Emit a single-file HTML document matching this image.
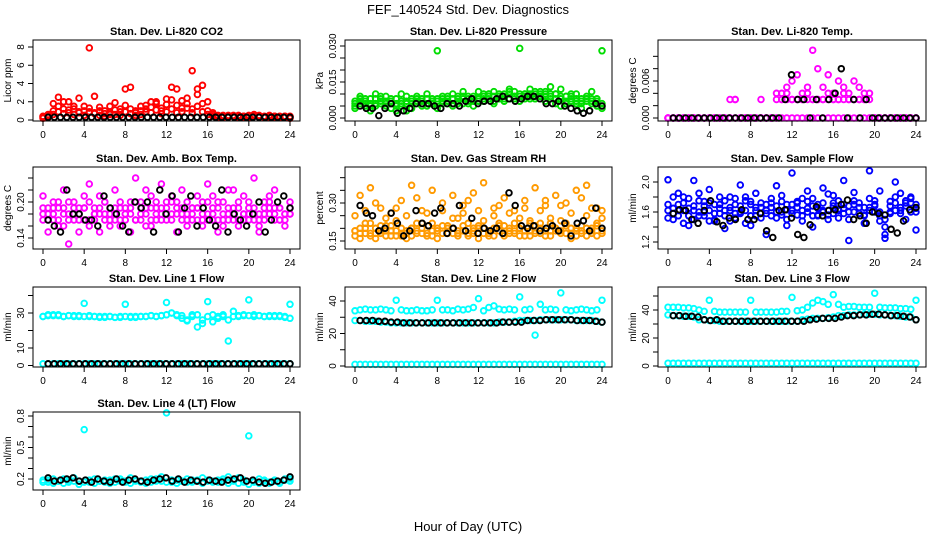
<!DOCTYPE html>
<html><head><meta charset="utf-8"><style>
html,body{margin:0;padding:0;background:#fff;}
svg{display:block;font-family:"Liberation Sans",Arial,sans-serif;}
</style></head><body>
<svg id="fig" width="936" height="540" viewBox="0 0 936 540" xmlns="http://www.w3.org/2000/svg">
<rect width="936" height="540" fill="#fff"/>
<text x="468" y="14" text-anchor="middle" font-size="13">FEF_140524  Std. Dev. Diagnostics</text>
<text x="468" y="531" text-anchor="middle" font-size="13">Hour of Day (UTC)</text>
</svg>
<script>
const xTicks=[0,4,8,12,16,20,24];
// CO2
const co2RedA=[0.3,0.5,1.8,2.5,1.2,2.0,1.5,2.4,1.0,7.9,2.6,1.4,1.0,1.5,1.9,1.2,3.4,3.6,1.0,1.5,1.2,2.0,1.8,1.3,2.3,3.6,3.4,2.1,1.8,5.4,3.4,3.8,2.0,0.8,0.5,0.4,0.5,0.4,0.3,0.4,0.5,0.4,0.3,0.4,0.3,0.4,0.3,0.4,0.3];
const co2RedB=[0.2,0.6,1.0,1.5,2.0,0.8,1.2,0.9,1.5,1.3,0.8,1.0,0.7,0.6,1.1,0.9,1.6,1.2,0.8,1.0,1.6,1.4,2.0,1.0,1.7,2.2,1.6,1.3,2.4,1.2,2.8,1.8,1.0,0.6,0.4,0.5,0.3,0.4,0.5,0.3,0.4,0.6,0.4,0.3,0.5,0.4,0.3,0.4,0.2];
const co2RedC=[0.4,0.3,0.6,0.9,0.7,1.1,0.6,0.8,0.5,0.9,0.7,0.5,0.4,0.8,0.6,0.5,0.9,0.7,0.5,0.6,0.9,0.8,1.1,0.7,0.9,1.2,0.8,0.9,1.3,0.8,1.5,0.9,0.6,0.4,0.3,0.3,0.4,0.5,0.3,0.4,0.3,0.4,0.5,0.3,0.4,0.3,0.4,0.3,0.4];
const co2Black=[0.3,0.3,0.3,0.3,0.3,0.3,0.3,0.3,0.3,0.3,0.3,0.3,0.3,0.3,0.3,0.3,0.3,0.3,0.3,0.3,0.3,0.3,0.3,0.3,0.3,0.3,0.3,0.3,0.3,0.3,0.3,0.3,0.3,0.3,0.3,0.3,0.3,0.3,0.3,0.3];
// Pressure (x1e-3 kPa)
const presA=[7,9,5,8,10,6,9,4,8,10,3,8,9,6,10,8,28,9,7,10,8,11,9,7,11,10,9,11,8,10,12,11,29,9,12,10,9,11,13,10,12,9,8,10,7,9,11,8,28];
const presB=[4,6,8,3,5,9,7,6,3,5,7,4,6,8,5,7,4,6,9,5,7,6,8,5,8,7,10,6,9,7,8,9,7,10,8,11,9,7,8,6,5,7,10,6,4,8,6,5,4];
const presC=[6,7,6,6,8,7,5,7,6,7,6,7,8,7,6,7,8,7,6,8,9,8,7,9,8,9,8,9,10,9,10,9,10,10,9,9,10,9,9,10,8,9,7,8,8,7,8,7,6];
const presD=[5,8,7,5,6,8,6,8,5,6,9,6,7,5,8,6,7,8,8,6,6,9,6,8,7,8,10,7,9,8,11,8,9,8,10,8,11,10,10,8,9,6,9,7,6,8,7,6,5];
const presBlack=[5,4,4,1,4,6,2,3,4,6,6,6,5,4,6,6,5,7,8,6,7,7,8,9,8,7,8,9,9,8,6,6,7,5,4,3,2,3,6,5];
// Temp (x1e-3 C)
const tempA=[0,0,0,0,0,0,0,0,0,0,0,0,3,3,0,0,0,0,3,0,0,3,3,3,3,3,3,3,3,3,3,3,3,3,3,3,3,3,3,3,0,0,0,0,0,0,0,0,0];
const tempB=[0,0,0,0,0,0,0,0,0,0,0,0,0,0,0,0,0,0,0,0,0,0,0,0,0,0,0,0,0,0,0,0,0,0,0,0,0,0,0,0,0,0,0,0,0,0,0,0,0];
const tempC=[0,0,0,0,0,0,0,0,0,0,0,0,0,0,0,0,0,0,0,0,0,4,4,5,6,7,4,5,11,8,5,7,4,6,5,4,6,5,4,4,0,0,0,0,0,0,0,0,0];
const tempD=[0,0,0,0,0,0,0,0,0,0,0,0,0,3,0,0,0,0,0,0,0,0,3,4,3,3,3,4,3,3,3,4,3,3,4,3,3,3,3,0,0,0,0,0,0,0,0,0,0];
const tempBlack=[0,0,0,0,0,0,0,0,0,0,0,0,0,0,0,0,0,0,3,7,3,3,0,3,0,3,4,8,0,3,0,3,0,0,0,0,0,0,0,0];
// Amb box temp
const ambA=[.21,.17,.19,.16,.22,.18,.20,.15,.19,.23,.17,.21,.18,.16,.22,.19,.17,.20,.24,.18,.16,.21,.19,.23,.17,.20,.18,.22,.16,.19,.21,.17,.23,.18,.20,.16,.22,.19,.17,.21,.18,.24,.16,.20,.19,.22,.17,.18,.20];
const ambB=[.17,.15,.18,.20,.16,.13,.19,.17,.21,.16,.18,.15,.20,.17,.19,.16,.18,.15,.17,.20,.22,.16,.18,.17,.19,.21,.15,.18,.20,.17,.19,.16,.18,.21,.15,.17,.19,.22,.16,.18,.20,.17,.15,.19,.21,.17,.19,.16,.18];
const ambC=[.18,.19,.17,.19,.18,.20,.17,.18,.19,.17,.19,.18,.17,.19,.18,.17,.19,.18,.20,.17,.18,.19,.17,.18,.20,.18,.19,.17,.18,.19,.17,.18,.20,.19,.17,.18,.18,.17,.19,.18,.17,.19,.18,.17,.18,.19,.17,.18,.18];
const ambD=[.19,.18,.20,.17,.19,.17,.18,.19,.17,.20,.18,.19,.20,.18,.17,.20,.18,.19,.17,.19,.19,.17,.20,.19,.18,.17,.20,.19,.17,.18,.19,.20,.17,.17,.19,.20,.17,.18,.20,.17,.19,.18,.17,.18,.20,.18,.19,.17,.19];
const ambBlack=[.17,.16,.15,.22,.18,.18,.17,.17,.16,.21,.19,.18,.16,.15,.20,.19,.20,.15,.22,.18,.21,.15,.19,.21,.16,.19,.17,.16,.22,.15,.18,.17,.16,.18,.20,.15,.17,.20,.21,.19];
// Gas stream RH
const rhA=[.19,.33,.18,.36,.20,.28,.17,.26,.19,.31,.18,.37,.22,.27,.17,.35,.20,.30,.18,.33,.24,.29,.17,.34,.21,.38,.19,.28,.22,.32,.18,.27,.20,.31,.17,.36,.22,.29,.19,.33,.23,.30,.18,.35,.21,.37,.20,.28,.24];
const rhB=[.17,.20,.22,.18,.16,.21,.19,.17,.23,.18,.16,.20,.18,.22,.17,.19,.16,.21,.18,.20,.17,.19,.22,.18,.16,.20,.19,.17,.21,.18,.20,.22,.17,.19,.23,.18,.20,.17,.22,.19,.18,.21,.16,.20,.18,.17,.19,.21,.18];
const rhC=[.25,.16,.27,.22,.30,.18,.24,.21,.28,.17,.25,.20,.32,.18,.26,.22,.19,.27,.21,.24,.18,.26,.31,.20,.27,.23,.18,.25,.29,.21,.26,.19,.24,.28,.22,.19,.27,.31,.24,.20,.29,.22,.26,.19,.32,.25,.28,.22,.27];
const rhD=[.19,.18,.20,.17,.18,.19,.21,.19,.17,.20,.19,.17,.19,.20,.18,.17,.19,.18,.20,.18,.19,.21,.18,.19,.20,.18,.17,.20,.19,.17,.19,.18,.20,.17,.19,.21,.18,.19,.17,.20,.19,.18,.20,.17,.19,.20,.18,.17,.19];
const rhBlack=[.29,.26,.25,.19,.20,.26,.22,.17,.19,.27,.22,.21,.26,.28,.18,.20,.29,.19,.24,.18,.20,.19,.20,.18,.34,.29,.21,.20,.21,.19,.20,.21,.19,.22,.17,.22,.23,.19,.28,.20];
// Sample flow
const sfA=[2.03,1.50,1.85,1.62,1.42,2.02,1.75,1.55,1.90,1.48,1.65,1.38,1.80,1.58,1.96,1.45,1.70,1.85,1.52,1.30,1.78,1.95,1.60,1.42,2.12,1.72,1.55,1.88,1.40,1.65,1.92,1.50,1.82,1.62,2.02,1.22,1.75,1.58,1.45,2.15,1.70,1.88,1.40,1.60,2.00,1.85,1.50,1.78,1.36];
const sfB=[1.62,1.80,1.55,1.72,1.65,1.50,1.85,1.60,1.48,1.70,1.58,1.75,1.62,1.52,1.68,1.80,1.55,1.62,1.72,1.58,1.66,1.52,1.74,1.63,1.70,1.56,1.78,1.60,1.68,1.55,1.72,1.62,1.58,1.75,1.65,1.50,1.70,1.58,1.66,1.78,1.60,1.55,1.25,1.68,1.72,1.62,1.75,1.80,1.65];
const sfC=[1.52,1.65,1.70,1.45,1.78,1.62,1.55,1.68,1.72,1.50,1.80,1.62,1.48,1.70,1.60,1.75,1.42,1.66,1.58,1.70,1.55,1.68,1.82,1.50,1.62,1.74,1.48,1.65,1.78,1.56,1.62,1.84,1.68,1.52,1.70,1.60,1.86,1.66,1.55,1.62,1.75,1.48,1.30,1.58,1.80,1.66,1.72,1.60,1.70];
const sfD=[1.70,1.58,1.62,1.80,1.55,1.68,1.60,1.74,1.62,1.58,1.70,1.55,1.66,1.78,1.58,1.62,1.74,1.55,1.66,1.62,1.72,1.60,1.56,1.70,1.58,1.66,1.62,1.74,1.55,1.70,1.60,1.56,1.72,1.64,1.58,1.68,1.60,1.72,1.56,1.66,1.68,1.60,1.50,1.74,1.62,1.58,1.68,1.72,1.60];
const sfBlack=[1.58,1.63,1.62,1.50,1.45,1.62,1.75,1.47,1.42,1.52,1.50,1.63,1.50,1.50,1.58,1.35,1.26,1.62,1.63,1.52,1.30,1.26,1.43,1.67,1.55,1.62,1.63,1.70,1.76,1.50,1.55,1.45,1.60,1.58,1.56,1.37,1.32,1.48,1.63,1.66];
// Line 1
const l1UpA=[28,28.5,29,28.5,28,28.5,28.5,28,35.5,28,28,27.5,28,28,27.5,27.5,35,27.5,28,28,28,28.5,28,28.5,36,30,29,28.5,26,29,22,24,36.5,25,27,28,14,31,28,28.5,37.5,29,28.5,28,28.5,28,28.5,28,35];
const l1UpB=[28,29,28.5,29,28,28.5,28,28.5,28,28.5,28,28,27.5,28,27.5,28,28,28,27.5,28,28,28.5,28,28.5,29,30,28.5,27,25.5,28,29,26,28,29,28,29,26,28,28.5,29,28.5,28,28.5,28,28,28.5,28,27.5,27];
const l1Low=[1,1,1,1,1,1,1,1,1,1,1,1,1,1,1,1,1,1,1,1,1,1,1,1,1,1,1,1,1,1,1,1,1,1,1,1,1,1,1,1,1,1,1,1,1,1,1,1,1];
const l1Black=[1,1,1,1,1,1,1,1,1,1,1,1,1,1,1,1,1,1,1,1,1,1,1,1,1,1,1,1,1,1,1,1,1,1,1,1,1,1,1,1];
// Line 2
const l2Up=[34,34.5,35,34.5,34.5,35,34.5,34,40.5,34.5,34,34,34.5,34,34,34.5,40.5,34.5,34.5,34,35,34.5,35,36,41.5,34,36,37,35,34.5,35,34.5,42.5,34.5,35,19,38,34.5,35,34.5,45,34.5,34,34.5,35,34.5,34,34.5,40.5];
const l2Mid=[28,28,27.5,27.5,27.5,27,27,26.5,26.5,26.5,26.5,26.5,26.5,26.5,26.5,26.5,26.5,26.5,26.5,26.5,26.5,26.5,26.5,26.5,26.5,26.5,26.5,26.5,27,27,27,27.5,28,28,28,28,28.5,28.5,28.5,28.5,28.5,28.5,28.5,28,28,28,28,27.5,27];
const l2Black=[28,28,28,27.5,27.5,27,27,26.5,26.5,26.5,26.5,26.5,26.5,26.5,26.5,26.5,26.5,26.5,26.5,26.5,26.5,26.5,26.5,27,27,27,27,28,28,28,28.5,28.5,28.5,28.5,28.5,28,28,28,27.5,27];
const l2Low=[1,1,1,1,1,1,1,1,1,1,1,1,1,1,1,1,1,1,1,1,1,1,1,1,1,1,1,1,1,1,1,1,1,1,1,1,1,1,1,1,1,1,1,1,1,1,1,1,1];
// Line 3
const l3Up=[42,42,42,41.5,41.5,41,40,39,47,39,38.5,38.5,38.5,38.5,38.5,38.5,47,38.5,38.5,38.5,38.5,38.5,39,39,49,39.5,40,42,45,47,46,44,51,44,42,42.5,42.5,42,42,42,52,42,41.5,41.5,41.5,41,41,40.5,47];
const l3Mid=[36.5,36,36,35.5,35.5,35,33,33,32.5,32.5,32,32,32,32,32,32,32,32,32,32,32,32,32,32,32,32,33,33.5,34,34,34,34.5,35,36,36,36.5,36.5,36.5,37,37,37,36.5,36.5,36,36,35.5,35,35,33];
const l3Black=[36,36,35.5,35.5,35,33,32.5,33,32,32,32,32,32,32,32,32,32,32,32,32,32,32,33,33.5,34,34,34,35,36,36,36.5,36.5,37,37,36.5,36,36,35.5,35,33];
const l3Low=[2,2,2,2,2,2,2,2,2,2,2,2,2,2,2,2,2,2,2,2,2,2,2,2,2,2,2,2,2,2,2,2,2,2,2,2,2,2,2,2,2,2,2,2,2,2,2,2,2];
// Line 4
const l4A=[.19,.17,.20,.18,.16,.19,.21,.18,.67,.17,.20,.18,.19,.16,.20,.18,.17,.21,.19,.18,.16,.20,.18,.22,.83,.17,.19,.18,.20,.17,.19,.21,.18,.17,.19,.20,.22,.18,.16,.19,.61,.17,.20,.18,.16,.19,.17,.20,.18];
const l4B=[.17,.19,.16,.18,.20,.17,.18,.15,.17,.19,.16,.18,.17,.19,.17,.20,.18,.16,.18,.17,.19,.17,.20,.18,.17,.19,.16,.18,.17,.19,.18,.16,.19,.18,.17,.18,.16,.19,.21,.17,.15,.18,.16,.19,.17,.18,.16,.19,.20];
const l4Black=[.21,.18,.19,.20,.21,.18,.19,.17,.20,.18,.17,.20,.17,.19,.20,.18,.17,.19,.20,.21,.18,.20,.17,.19,.18,.17,.19,.18,.17,.19,.20,.21,.18,.19,.17,.16,.17,.18,.19,.22];

const NS="http://www.w3.org/2000/svg";
const svg=document.getElementById('fig');
function mk(tag,attrs,parent){const e=document.createElementNS(NS,tag);for(const k in attrs)e.setAttribute(k,attrs[k]);(parent||svg).appendChild(e);return e;}
const colX0=[43,355,668],colX1=[290,602,916];
const rowBox=[[40,121],[167,249],[287,367],[412,490]];

function panel(p){
  const g=mk('g',{});
  
  
  const X0=colX0[p.col],X1=colX1[p.col];
  const [bt,bb]=rowBox[p.row];
  const xs=h=>X0+(X1-X0)*h/24;
  const ys=v=>p.p0+(p.p1-p.p0)*(v-p.v0)/(p.v1-p.v0);
  const bl=X0-10,br=X1+10;
  const t=mk('text',{x:(bl+br)/2,y:bt-5,'text-anchor':'middle','font-size':'11','font-weight':'bold'},g);
  t.textContent=p.title;
  
  
  const cl=mk('g',{},g);
  
  
  p.series.forEach(s=>{
    const n=s.vals.length,a=s.x0,b=s.x1;
    s.vals.forEach((v,i)=>{
      const h=n>1?a+(b-a)*i/(n-1):a;
      const c=mk('circle',{cx:xs(h).toFixed(1),cy:ys(v*(s.k||1)).toFixed(1),r:2.8,fill:'none',stroke:s.color,'stroke-width':1.9},cl);
      
      
    });
  });
  const box=mk('rect',{x:bl,y:bt,width:br-bl,height:bb-bt,fill:'none',stroke:'#000','stroke-width':1},g);
  
  
  xTicks.forEach(h=>{
    mk('line',{x1:xs(h),x2:xs(h),y1:bb,y2:bb+5,stroke:'#000'},g);
    const tl=mk('text',{x:xs(h),y:bb+17,'text-anchor':'middle','font-size':'10'},g);
    tl.textContent=h;
    
    
  });
  mk('line',{x1:xs(0),x2:xs(24),y1:bb,y2:bb,stroke:'#000'},g);
  p.yTicks.forEach(v=>{
    const y=ys(v);
    mk('line',{x1:bl-5,x2:bl,y1:y,y2:y,stroke:'#000'},g);
  });
  p.yLabels.forEach(v=>{
    const y=ys(v);
    const tl=mk('text',{x:0,y:0,'text-anchor':'middle','font-size':'10',transform:`translate(${bl-9},${y}) rotate(-90)`},g);
    tl.textContent=v.toFixed(p.dec);
    
    
  });
  const yt=mk('text',{x:0,y:0,'text-anchor':'middle','font-size':'10',transform:`translate(${bl-22},${(bt+bb)/2}) rotate(-90)`},g);
  yt.textContent=p.ylab;
  
  
}
const M=(vals,color,k)=>({vals,color,x0:0,x1:24,k});
const B=(vals,k)=>({vals,color:'#000',x0:0.5,x1:24,k});
const red='#ff0000',grn='#00dd00',mag='#ff00ff',blu='#0000ff',cya='#00ffff',org='#ff9a00';
panel({name:'panel-co2',col:0,row:0,title:'Stan. Dev. Li-820 CO2',ylab:'Licor ppm',v0:0,p0:120,v1:8,p1:47,yTicks:[0,2,4,6,8],yLabels:[0,2,4,6,8],dec:0,
  series:[M(co2RedC,red),M(co2RedB,red),M(co2RedA,red),B(co2Black)]});
panel({name:'panel-pressure',col:1,row:0,title:'Stan. Dev. Li-820 Pressure',ylab:'kPa',v0:0,p0:118,v1:0.03,p1:46,yTicks:[0,.005,.01,.015,.02,.025,.03],yLabels:[0,.015,.03],dec:3,
  series:[M(presD,grn,0.001),M(presC,grn,0.001),M(presB,grn,0.001),M(presA,grn,0.001),B(presBlack,0.001)]});
panel({name:'panel-temp',col:2,row:0,title:'Stan. Dev. Li-820 Temp.',ylab:'degrees C',v0:0,p0:118,v1:0.006,p1:81,yTicks:[0,.002,.004,.006,.008,.01],yLabels:[0,.006],dec:3,
  series:[M(tempB,mag,0.001),M(tempD,mag,0.001),M(tempA,mag,0.001),M(tempC,mag,0.001),B(tempBlack,0.001)]});
panel({name:'panel-amb-box-temp',col:0,row:1,title:'Stan. Dev. Amb. Box Temp.',ylab:'degrees C',v0:0.14,p0:238,v1:0.2,p1:202,yTicks:[.14,.16,.18,.2,.22,.24],yLabels:[.14,.2],dec:2,
  series:[M(ambD,mag),M(ambC,mag),M(ambB,mag),M(ambA,mag),B(ambBlack)]});
panel({name:'panel-gas-rh',col:1,row:1,title:'Stan. Dev. Gas Stream RH',ylab:'percent',v0:0.15,p0:241,v1:0.3,p1:203,yTicks:[.15,.2,.25,.3,.35,.4],yLabels:[.15,.3],dec:2,
  series:[M(rhD,org),M(rhC,org),M(rhB,org),M(rhA,org),B(rhBlack)]});
panel({name:'panel-sample-flow',col:2,row:1,title:'Stan. Dev. Sample Flow',ylab:'ml/min',v0:1.2,p0:242,v1:2.0,p1:182,yTicks:[1.2,1.4,1.6,1.8,2.0],yLabels:[1.2,1.6,2.0],dec:1,
  series:[M(sfD,blu),M(sfC,blu),M(sfB,blu),M(sfA,blu),B(sfBlack)]});
panel({name:'panel-line1-flow',col:0,row:2,title:'Stan. Dev. Line 1 Flow',ylab:'ml/min',v0:0,p0:365.5,v1:30,p1:313,yTicks:[0,10,20,30,40],yLabels:[0,10,30],dec:0,
  series:[M(l1UpB,cya),M(l1UpA,cya),M(l1Low,cya),B(l1Black)]});
panel({name:'panel-line2-flow',col:1,row:2,title:'Stan. Dev. Line 2 Flow',ylab:'ml/min',v0:0,p0:366,v1:40,p1:301,yTicks:[0,10,20,30,40],yLabels:[0,20,40],dec:0,
  series:[M(l2Up,cya),M(l2Mid,cya),M(l2Low,cya),B(l2Black)]});
panel({name:'panel-line3-flow',col:2,row:2,title:'Stan. Dev. Line 3 Flow',ylab:'ml/min',v0:0,p0:366,v1:40,p1:310,yTicks:[0,10,20,30,40,50],yLabels:[0,20,40],dec:0,
  series:[M(l3Up,cya),M(l3Mid,cya),M(l3Low,cya),B(l3Black)]});
panel({name:'panel-line4-flow',col:0,row:3,title:'Stan. Dev. Line 4 (LT) Flow',ylab:'ml/min',v0:0.2,p0:479,v1:0.8,p1:416,yTicks:[.2,.3,.4,.5,.6,.7,.8],yLabels:[.2,.5,.8],dec:1,
  series:[M(l4B,cya),M(l4A,cya),B(l4Black)]});
</script>
</body></html>
